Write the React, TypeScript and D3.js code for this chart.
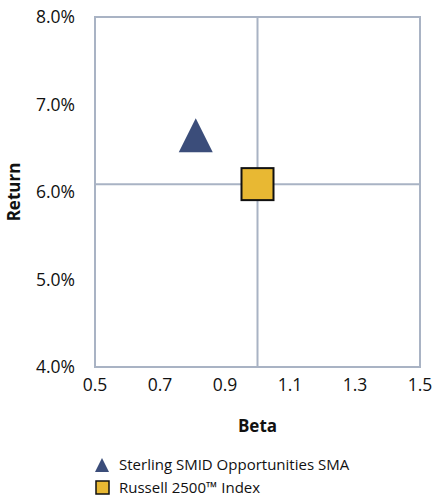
import React from "react";
import * as d3 from "d3";

const seriesNames = ["Sterling SMID Opportunities SMA", "Russell 2500™ Index"];
const betaValues = [0.81, 1.0];
const returnValues = [6.65, 6.09];
const xTicks = [0.5, 0.7, 0.9, 1.1, 1.3, 1.5];
const yTicks = [4, 5, 6, 7, 8];

const W = 433, H = 498;
const M = { left: 95, right: 420, top: 17, bottom: 367 };
const FONT = "'Open Sans', Roboto, sans-serif";
const GRID = "#A9B3C4";
const NAVY = "#3B4D7A";
const GOLD = "#E8B833";

export default function App() {
  const x = d3.scaleLinear().domain([0.5, 1.5]).range([M.left, M.right]);
  const y = d3.scaleLinear().domain([4, 8]).range([M.bottom, M.top]);
  const idx = 1;
  const cx = x(betaValues[idx]);
  const cy = y(returnValues[idx]);
  const triPath = (s: number) => `M0,${-s / 2}L${s / 2},${s / 2}L${-s / 2},${s / 2}Z`;
  return (
    <svg width={W} height={H} style={{ position: "absolute", left: 0, top: 0 }} fontFamily={FONT}>
      <rect x={0} y={0} width={W} height={H} fill="#fff" />
      <rect x={M.left} y={M.top} width={M.right - M.left} height={M.bottom - M.top} fill="none" stroke={GRID} strokeWidth={2} />
      <line x1={cx} x2={cx} y1={M.top} y2={M.bottom} stroke={GRID} strokeWidth={2} />
      <line x1={M.left} x2={M.right} y1={cy} y2={cy} stroke={GRID} strokeWidth={2} />
      {yTicks.map((t) => (
        <text key={t} x={75} y={y(t)} dy="0.36em" textAnchor="end" fontSize={17.5} fill="#111">
          {d3.format(".1f")(t) + "%"}
        </text>
      ))}
      {xTicks.map((t) => (
        <text key={t} x={x(t)} y={391} textAnchor="middle" fontSize={17.5} fill="#111">
          {d3.format(".1f")(t)}
        </text>
      ))}
      <text x={(M.left + M.right) / 2} y={432} textAnchor="middle" fontSize={17} fontWeight="bold" fill="#111">Beta</text>
      <text transform={`translate(20,${(M.top + M.bottom) / 2}) rotate(-90)`} textAnchor="middle" fontSize={17} fontWeight="bold" fill="#111">Return</text>
      <path d={triPath(34)} transform={`translate(${x(betaValues[0])},${y(returnValues[0])})`} fill={NAVY} />
      <rect x={cx - 16} y={cy - 16} width={32} height={32} fill={GOLD} stroke="#111" strokeWidth={2} />
      <g>
        <path d={triPath(14)} transform={`translate(102,465)`} fill={NAVY} />
        <text x={119} y={465} dy="0.36em" fontSize={15} fill="#111">{seriesNames[0]}</text>
        <rect x={96} y={481} width={13} height={13} fill={GOLD} stroke="#111" strokeWidth={1.5} />
        <text x={119} y={488} dy="0.36em" fontSize={15} fill="#111">{seriesNames[1]}</text>
      </g>
    </svg>
  );
}
